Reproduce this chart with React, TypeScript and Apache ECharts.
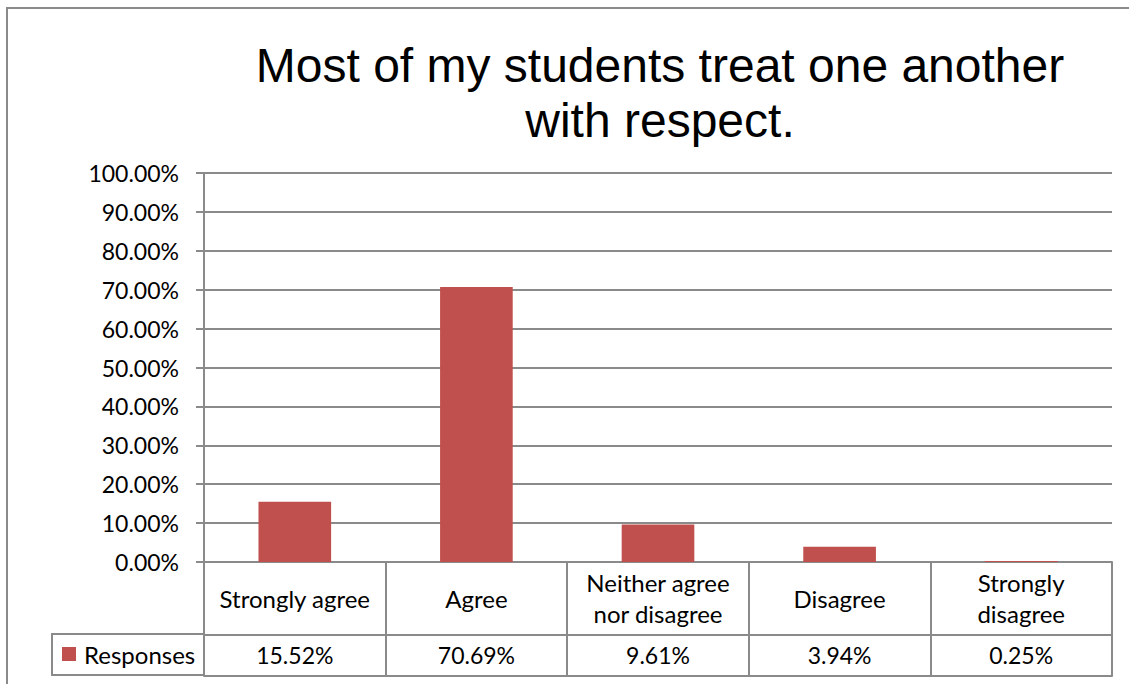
import React, { useEffect, useRef } from "react";
import * as echarts from "echarts";

const categories = [
  "Strongly agree",
  "Agree",
  "Neither agree\nnor disagree",
  "Disagree",
  "Strongly\ndisagree",
];
const responses = [0.1552, 0.7069, 0.0961, 0.0394, 0.0025];
const seriesName = "Responses";
const titleText = "Most of my students treat one another\nwith respect.";
const yMin = 0;
const yMax = 1;
const yInterval = 0.1;

const GRAY = "#8a8a8a";
const BAR = "#C0504D";
const LABEL_FONT = "Lato, 'Noto Sans', sans-serif";

export default function App() {
  const ref = useRef<HTMLDivElement>(null);

  useEffect(() => {
    if (!ref.current) return;
    const chart = echarts.init(ref.current, null, { renderer: "svg" });
    const pct = (v: number) => (v * 100).toFixed(2) + "%";
    const lineStyle = { color: GRAY, width: 2 };
    const wordText = { color: "#000", fontSize: 24, fontFamily: LABEL_FONT };
    const numText = { color: "#000", fontSize: 23, fontFamily: LABEL_FONT };

    chart.setOption({
      animation: false,
      backgroundColor: "#fff",
      title: {
        text: titleText,
        left: 660,
        top: 38,
        textAlign: "center",
        padding: 0,
        textStyle: {
          fontFamily: "'Liberation Sans', Arial, sans-serif",
          fontWeight: "normal",
          fontSize: 48,
          lineHeight: 55,
          color: "#000",
        },
      },
      legend: {
        data: [seriesName],
        left: 62,
        top: 642,
        padding: 0,
        itemWidth: 14,
        itemHeight: 14,
        icon: "rect",
        textStyle: { ...wordText, padding: [0, 0, 0, 3] },
      },
      grid: { left: 204, right: 17, top: 173, bottom: 122, containLabel: false },
      xAxis: [
        {
          type: "category",
          data: categories,
          position: "bottom",
          axisLine: { show: true, lineStyle },
          axisTick: { show: true, length: 73, lineStyle },
          axisLabel: {
            ...wordText,
            interval: 0,
            margin: 36,
            verticalAlign: "middle",
            lineHeight: 31,
          },
          splitLine: { show: false },
        },
        {
          type: "category",
          data: responses.map(pct),
          position: "bottom",
          offset: 73,
          axisLine: { show: true, lineStyle },
          axisTick: { show: true, length: 41, lineStyle },
          axisLabel: { ...numText, interval: 0, margin: 20, verticalAlign: "middle" },
          splitLine: { show: false },
        },
        {
          type: "category",
          data: responses.map(pct),
          position: "bottom",
          offset: 114,
          axisLine: { show: true, lineStyle },
          axisTick: { show: false },
          axisLabel: { show: false },
          splitLine: { show: false },
        },
      ],
      yAxis: {
        type: "value",
        min: yMin,
        max: yMax,
        interval: yInterval,
        axisLine: { show: true, lineStyle },
        axisTick: { show: true, length: 8, lineStyle },
        axisLabel: {
          ...numText,
          margin: 25,
          formatter: (v: number) => pct(v),
        },
        splitLine: { show: true, lineStyle },
      },
      graphic: [
        {
          type: "polyline",
          shape: { points: [[7, 700], [7, 8], [1140, 8]] },
          style: { stroke: GRAY, lineWidth: 2, fill: "none" },
          silent: true,
        },
        {
          type: "polyline",
          shape: { points: [[204, 634], [52, 634], [52, 675], [204, 675]] },
          style: { stroke: GRAY, lineWidth: 2, fill: "none" },
          silent: true,
        },
      ],
      series: [
        {
          name: seriesName,
          type: "bar",
          data: responses,
          barWidth: "40%",
          itemStyle: { color: BAR },
        },
      ],
    });

    return () => chart.dispose();
  }, []);

  return (
    <div
      ref={ref}
      style={{ position: "absolute", left: 0, top: 0, width: 1129, height: 684 }}
    />
  );
}
